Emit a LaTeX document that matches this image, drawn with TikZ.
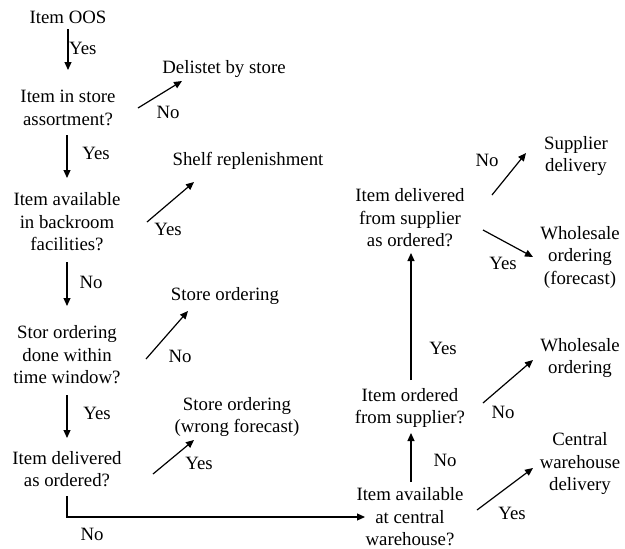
\documentclass[tikz,border=0pt]{standalone}
\usepackage{fontspec}
\setmainfont{Liberation Serif}
\usetikzlibrary{calc,arrows.meta}
\begin{document}
\begin{tikzpicture}[x=1pt,y=-1pt,
  txt/.style={inner sep=0pt,align=center,font=\fontsize{18.8}{22.5}\selectfont},
  lbl/.style={inner sep=0pt,font=\fontsize{18.8}{22.5}\selectfont},
  arr/.style={line width=1.2pt,-{Triangle[length=8pt,width=7pt]}}]
\useasboundingbox (0,0) rectangle (625,549);
% nodes
\node[txt] (oos) at (68,17) {Item OOS};
\node[txt] (q1) at (68,108) {Item in store\\assortment?};
\node[txt] (delist) at (224,69) {Delistet by store};
\node[txt] (q2) at (67,222) {Item available\\in backroom\\facilities?};
\node[txt] (shelf) at (248,161) {Shelf replenishment};
\node[txt] (q3) at (67,355) {Stor ordering\\done within\\time window?};
\node[txt] (sord) at (225,296) {Store ordering};
\node[txt] (q4) at (67,469) {Item delivered\\as ordered?};
\node[txt] (sordw) at (237,417) {Store ordering\\(wrong forecast)};
\node[txt] (q5) at (410,517) {Item available\\at central\\warehouse?};
\node[txt] (q6) at (410,408) {Item ordered\\from supplier?};
\node[txt] (q7) at (410,218) {Item delivered\\from supplier\\as ordered?};
\node[txt] (supdel) at (576,156) {Supplier\\delivery};
\node[txt] (whf) at (580,257) {Wholesale\\ordering\\(forecast)};
\node[txt] (who) at (580,358) {Wholesale\\ordering};
\node[txt] (cwd) at (580,464) {Central\\warehouse\\delivery};
% connectors
\draw[arr] ($(oos)+(0,12)$) -- ($(q1)+(0,-38)$);
\draw[arr] ($(q1)+(70,0)$) -- ($(delist)+(-42,12)$);
\draw[arr] ($(q1)+(-1,27)$) -- ($(q2)+(0,-44)$);
\draw[arr] ($(q2)+(80,0)$) -- ($(shelf)+(-54,21)$);
\draw[arr] ($(q2)+(0,40)$) -- ($(q3)+(0,-49)$);
\draw[arr] ($(q3)+(79,4)$) -- ($(sord)+(-37,15)$);
\draw[arr] ($(q3)+(0,40)$) -- ($(q4)+(0,-31)$);
\draw[arr] ($(q4)+(86,5)$) -- ($(sordw)+(-43,23)$);
\draw[arr] ($(q4)+(0,27)$) |- ($(q5)+(-45,0)$);
\draw[arr] ($(q5)+(1,-35)$) -- ($(q6)+(1,25)$);
\draw[arr] ($(q5)+(67,-7)$) -- ($(cwd)+(-47,4)$);
\draw[arr] ($(q6)+(1,-28)$) -- ($(q7)+(1,35)$);
\draw[arr] ($(q6)+(73,-5)$) -- ($(who)+(-47,2)$);
\draw[arr] ($(q7)+(82,-23)$) -- ($(supdel)+(-50,-3)$);
\draw[arr] ($(q7)+(73,12)$) -- ($(whf)+(-47,0)$);
% labels
\node[lbl,anchor=west] (l1) at (69,48) {Yes};
\node[lbl] (l2) at (168,112) {No};
\node[lbl] (l3) at (96,153) {Yes};
\node[lbl] (l4) at (168,229) {Yes};
\node[lbl] (l5) at (91,282) {No};
\node[lbl] (l6) at (180,356) {No};
\node[lbl] (l7) at (97,413) {Yes};
\node[lbl] (l8) at (199,463) {Yes};
\node[lbl] (l9) at (92,534) {No};
\node[lbl] (l10) at (445,460) {No};
\node[lbl] (l11) at (443,348) {Yes};
\node[lbl] (l12) at (503,412) {No};
\node[lbl] (l13) at (512,513) {Yes};
\node[lbl] (l14) at (487,160) {No};
\node[lbl] (l15) at (503,263) {Yes};
\end{tikzpicture}
\end{document}
